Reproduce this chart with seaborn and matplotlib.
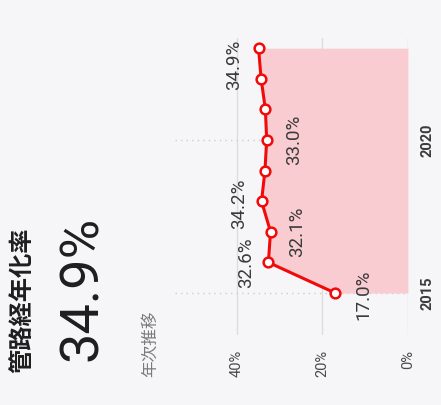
import matplotlib
matplotlib.use("Agg")
import matplotlib.pyplot as plt
import seaborn as sns
import pandas as pd

# 管路経年化率（年次推移）
years = [2015, 2016, 2017, 2018, 2019, 2020, 2021, 2022, 2023]
rates = [17.0, 32.6, 32.1, 34.2, 33.4, 33.0, 33.3, 34.3, 34.9]
labelled_years = [2015, 2016, 2017, 2018, 2020, 2023]
value_ticks = [0, 20, 40]
year_ticks = [2015, 2020]

title_text = "管路経年化率"
headline_text = "34.9%"
subtitle_text = "年次推移"

df = pd.DataFrame({"year": years, "rate": rates})

sns.set_theme(style="white")
plt.rcParams["font.family"] = ["Roboto", "Noto Sans CJK JP", "DejaVu Sans"]

BG = "#f6f6f9"
RED = "#f00a0a"
PINK = "#f8ccd1"

fig = plt.figure(figsize=(4.41, 4.05), dpi=100, facecolor=BG)
ax = fig.add_axes([0.397, 0.173, 0.528, 0.733], facecolor=BG)

# area between the series and 0 %
ax.fill_betweenx(df["year"], 0, df["rate"], color=PINK, lw=0, zorder=1)

sns.lineplot(data=df, x="rate", y="year", orient="y", sort=False, ax=ax,
             color=RED, lw=2.2, marker="o", markersize=7,
             markerfacecolor="white", markeredgecolor=RED,
             markeredgewidth=1.8, zorder=3)

ax.set_xlim(54.4, 0)
ax.set_ylim(2013.63, 2023.33)

ax.set_xticks(value_ticks)
ax.set_xticklabels([f"{v}%" for v in value_ticks], rotation=90,
                   fontsize=10.5, color="#4a4a4a")
ax.set_yticks(year_ticks)
ax.set_yticklabels([str(y) for y in year_ticks], rotation=90,
                   fontsize=10.5, color="#3a3a3a", fontweight="bold",
                   va="center")
ax.yaxis.tick_right()
ax.tick_params(axis="x", length=0, pad=11)
ax.tick_params(axis="y", length=0, pad=9)
ax.set_xlabel("")
ax.set_ylabel("")

ax.grid(axis="x", color="#dddddd", lw=1.0, zorder=0)
ax.grid(axis="y", color="#cccccc", lw=1.0, ls=(0, (1, 3)), zorder=0)
for s in ax.spines.values():
    s.set_visible(False)

# value labels, alternating sides of the line
label_offsets = {2015: (28, -2), 2016: (-22, 0), 2017: (27, 0),
                 2018: (-22, -3), 2020: (27, 0), 2023: (-24, -17)}
for y, r in zip(years, rates):
    if y in labelled_years:
        dx, dy = label_offsets[y]
        ax.annotate(f"{r:.1f}%", xy=(r, y), xytext=(dx, dy),
                    textcoords="offset pixels", rotation=90,
                    ha="center", va="center", fontsize=13.5,
                    color="#3a3a3a", zorder=4)

# header block
fig.text(22 / 441, 1 - 373 / 405, title_text, rotation=90, ha="center",
         va="bottom", fontsize=17.5, fontweight="bold", color="#1e1e1e",
         family=["Noto Sans CJK JP"])
fig.text(83 / 441, 1 - 361 / 405, headline_text, rotation=90, ha="center",
         va="bottom", fontsize=39, fontweight="normal", color="#1e1e1e",
         family=["Roboto", "DejaVu Sans"])
fig.text(150 / 441, 1 - 377 / 405, subtitle_text, rotation=90, ha="center",
         va="bottom", fontsize=12, color="#7a7a7a",
         family=["Noto Sans CJK JP"])

fig.savefig("out.png", dpi=100, facecolor=BG)
